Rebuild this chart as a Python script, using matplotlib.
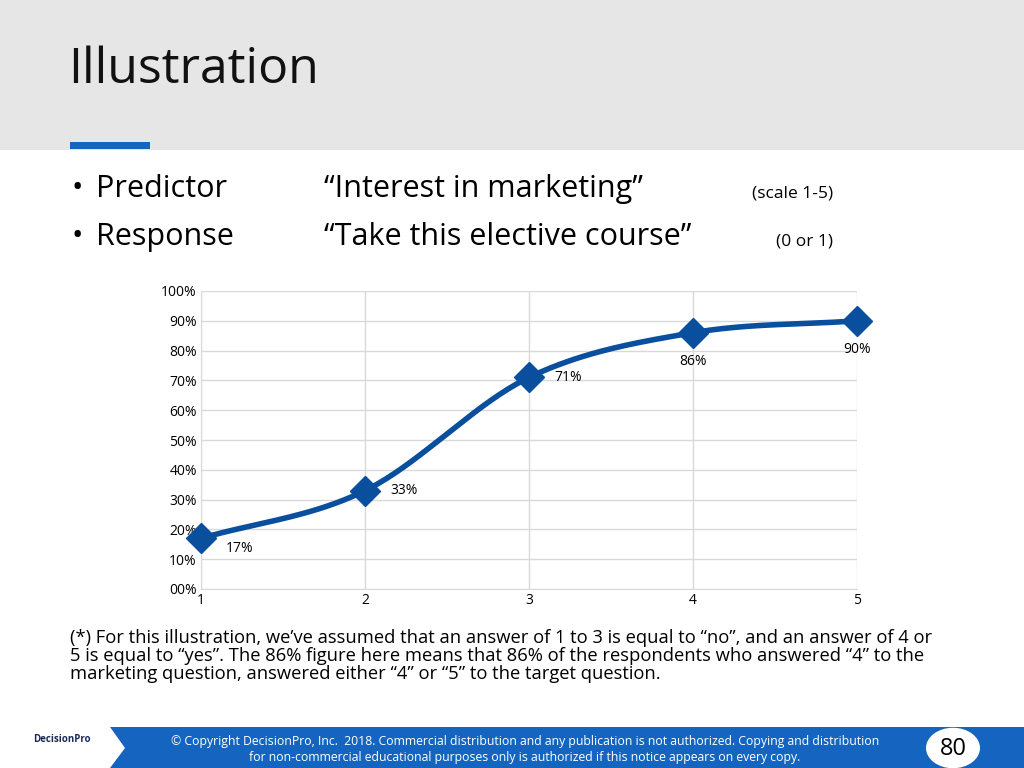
import matplotlib.pyplot as plt
import numpy as np
from matplotlib.patches import Rectangle, Polygon, Circle

plt.rcParams['font.family'] = ['Open Sans', 'DejaVu Sans']

# data
answers = [1, 2, 3, 4, 5]
share_yes = [0.17, 0.33, 0.71, 0.86, 0.90]
point_labels = ['17%', '33%', '71%', '86%', '90%']
y_ticks = [i / 10 for i in range(11)]
y_tick_labels = ['00%'] + [f'{i * 10}%' for i in range(1, 11)]

BLUE = '#0a4f9e'


def smooth(xs, ys, n=40):
    """Catmull-Rom spline through the points (like Excel's smoothed line)."""
    xs = np.asarray(xs, float)
    ys = np.asarray(ys, float)
    px = np.concatenate([[2 * xs[0] - xs[1]], xs, [2 * xs[-1] - xs[-2]]])
    py = np.concatenate([[2 * ys[0] - ys[1]], ys, [2 * ys[-1] - ys[-2]]])
    ox, oy = [], []
    t = np.linspace(0, 1, n)
    for i in range(1, len(px) - 2):
        for p, o in ((px, ox), (py, oy)):
            p0, p1, p2, p3 = p[i - 1], p[i], p[i + 1], p[i + 2]
            o.extend(0.5 * (2 * p1 + (-p0 + p2) * t + (2 * p0 - 5 * p1 + 4 * p2 - p3) * t ** 2
                            + (-p0 + 3 * p1 - 3 * p2 + p3) * t ** 3))
    return ox, oy


fig = plt.figure(figsize=(10.24, 7.68), dpi=100)

# header band
fig.patches.append(Rectangle((0, 1 - 150 / 768), 1, 150 / 768, transform=fig.transFigure,
                             facecolor='#e6e6e6', edgecolor='none', zorder=0))
fig.patches.append(Rectangle((70 / 1024, 1 - 149 / 768), 80 / 1024, 7 / 768, transform=fig.transFigure,
                             facecolor='#1565c0', edgecolor='none', zorder=1))
fig.text(68 / 1024, 1 - 70 / 768, 'Illustration', fontsize=36, va='center', color='#111111')

# bullets
fig.text(72 / 1024, 1 - 189 / 768, '•', fontsize=22, va='center')
fig.text(72 / 1024, 1 - 237 / 768, '•', fontsize=22, va='center')
fig.text(96 / 1024, 1 - 189 / 768, 'Predictor', fontsize=22, va='center')
fig.text(96 / 1024, 1 - 237 / 768, 'Response', fontsize=22, va='center')
fig.text(324 / 1024, 1 - 189 / 768, '“Interest in marketing”', fontsize=22, va='center')
fig.text(324 / 1024, 1 - 237 / 768, '“Take this elective course”', fontsize=22, va='center')
fig.text(833 / 1024, 1 - 193 / 768, '(scale 1-5)', fontsize=12.5, va='center', ha='right')
fig.text(833 / 1024, 1 - 241 / 768, '(0 or 1)', fontsize=12.5, va='center', ha='right')

# chart
ax = fig.add_axes([201 / 1024, 1 - 589 / 768, 656 / 1024, 298 / 768])
sx, sy = smooth(answers, share_yes)
ax.plot(sx, sy, color=BLUE, linewidth=4, zorder=3, solid_capstyle='round', clip_on=False)
ax.plot(answers, share_yes, linestyle='none', marker='D', markersize=15, color=BLUE, zorder=4,
        clip_on=False)
offsets = [(18, -7), (18, 0), (18, 0), (0, -21), (0, -21)]
for x, y, lab, (dx, dy) in zip(answers, share_yes, point_labels, offsets):
    ax.annotate(lab, (x, y), xytext=(dx, dy), textcoords='offset points', fontsize=10,
                ha='left' if dx else 'center', va='center', zorder=5)
ax.set_xlim(1, 5)
ax.set_ylim(0, 1)
ax.set_xticks(answers)
ax.set_yticks(y_ticks)
ax.set_yticklabels(y_tick_labels)
ax.tick_params(length=0, labelsize=10, pad=3)
ax.grid(True, color='#d9d9d9', linewidth=1)
ax.set_axisbelow(True)
for side in ('top', 'right'):
    ax.spines[side].set_visible(False)
for side in ('left', 'bottom'):
    ax.spines[side].set_color('#d9d9d9')

# note
fig.text(70 / 1024, 1 - 656 / 768,
         '(*) For this illustration, we’ve assumed that an answer of 1 to 3 is equal to “no”, and an answer of 4 or\n'
         '5 is equal to “yes”. The 86% figure here means that 86% of the respondents who answered “4” to the\n'
         'marketing question, answered either “4” or “5” to the target question.',
         fontsize=13.2, va='center', linespacing=1.0)

# footer
fig.patches.append(Polygon([(110 / 1024, 1 - 727 / 768), (1, 1 - 727 / 768), (1, 0), (110 / 1024, 0),
                            (125 / 1024, 1 - 748 / 768)], closed=True, transform=fig.transFigure,
                           facecolor='#1565c0', edgecolor='none'))
fig.patches.append(Circle((953 / 1024, 1 - 748 / 768), 27 / 1024, transform=fig.transFigure,
                          facecolor='white', edgecolor='none'))
fig.text(953 / 1024, 1 - 749 / 768, '80', fontsize=17, ha='center', va='center')
fig.text(525 / 1024, 1 - 749 / 768,
         '© Copyright DecisionPro, Inc.  2018. Commercial distribution and any publication is not authorized. Copying and distribution\n'
         'for non-commercial educational purposes only is authorized if this notice appears on every copy.',
         fontsize=8.8, ha='center', va='center', color='white', linespacing=1.3)
fig.text(62 / 1024, 1 - 740 / 768, 'DecisionPro', fontsize=7, ha='center', va='center',
         fontweight='bold', color='#1a2a5a')

fig.savefig('out.png', dpi=100)
